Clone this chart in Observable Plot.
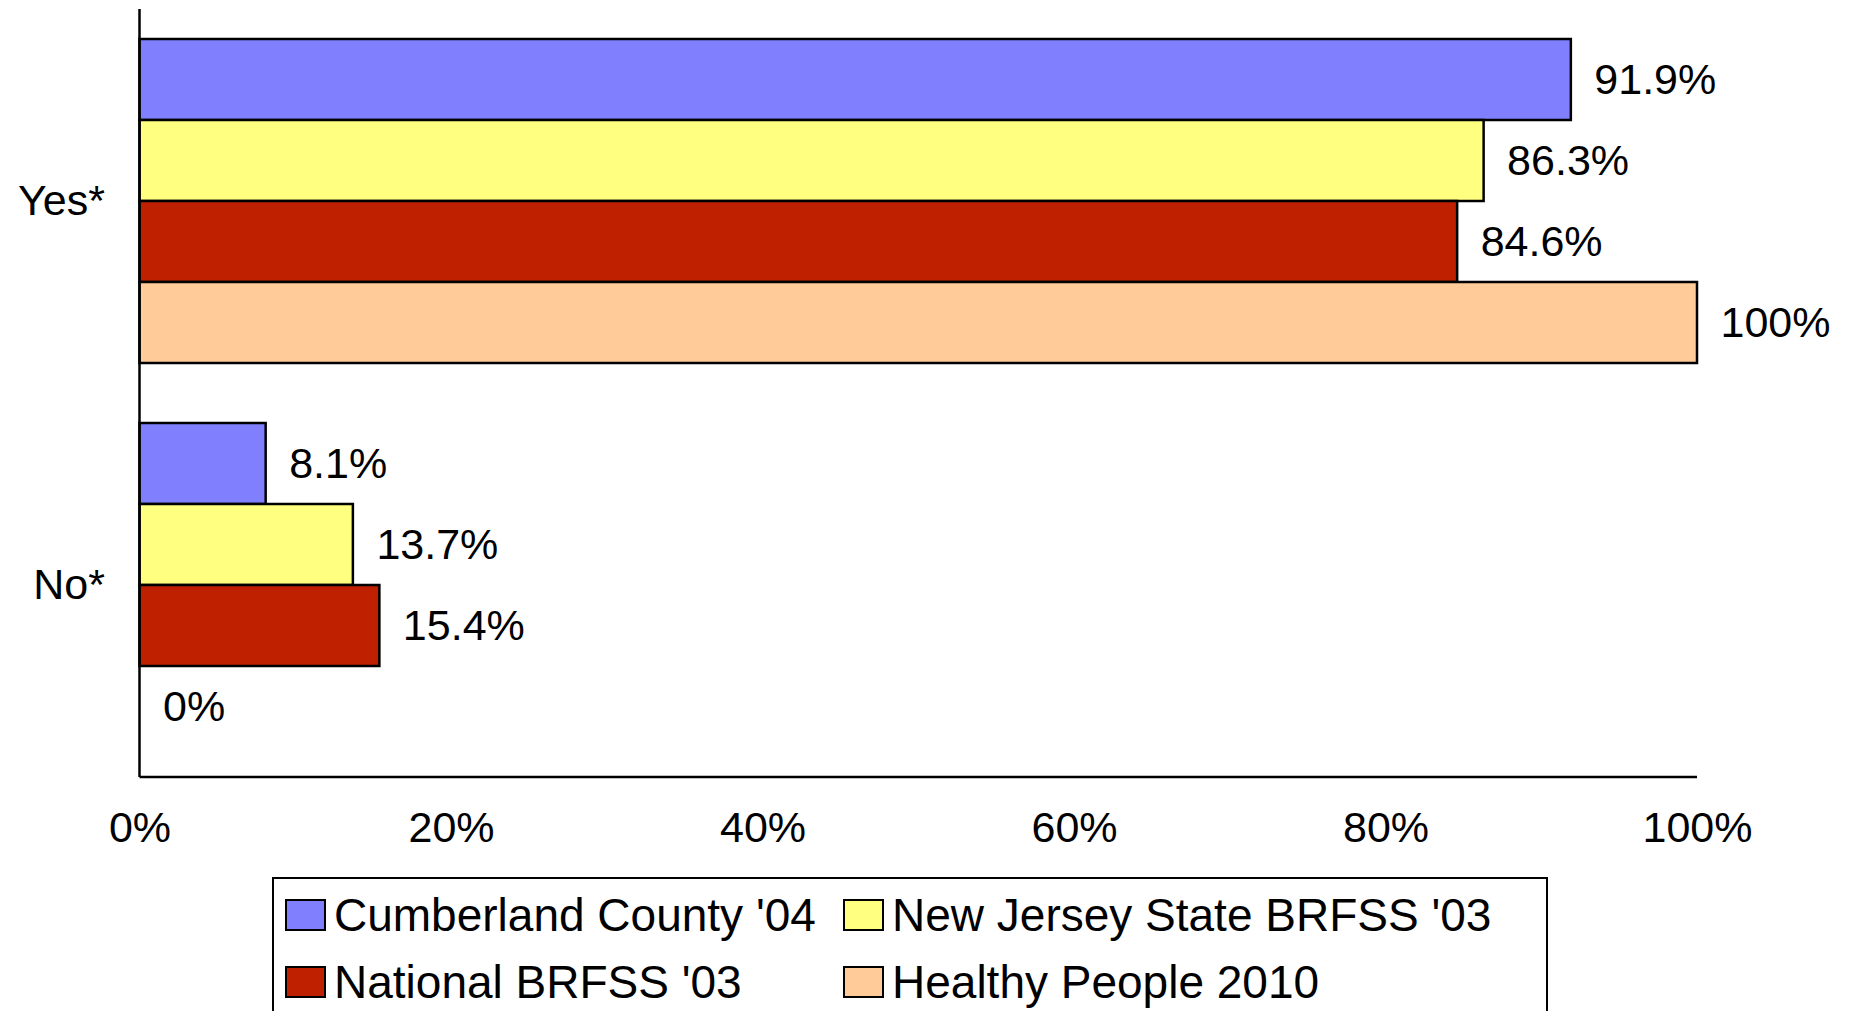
<!DOCTYPE html>
<html>
<head>
<meta charset="utf-8">
<script src="https://cdn.jsdelivr.net/npm/d3@7"></script>
<script src="https://cdn.jsdelivr.net/npm/@observablehq/plot@0.6"></script>
<style>
  html, body { margin: 0; padding: 0; background: #fff; }
  body { width: 1852px; height: 1011px; overflow: hidden; position: relative; font-family: "Liberation Sans", Arial, sans-serif; }
  #chart { position: absolute; left: 0; top: 0; }
  #legend {
    position: absolute; left: 272px; top: 877px; width: 1261px; height: 150px;
    border: 2px solid #000; box-sizing: content-box;
    display: grid; grid-template-columns: 558px auto; grid-auto-rows: 67px;
    padding-top: 2px; padding-left: 11px;
    font-size: 46px; color: #000;
  }
  .item { display: flex; align-items: center; white-space: nowrap; }
  .sw { width: 37px; height: 28px; border: 2px solid #000; margin-right: 8px; flex: none; }
</style>
</head>
<body>
<div id="chart"></div>
<div id="legend"></div>
<script>
const categories = ["Yes*", "No*"];
const series = ["Cumberland County '04", "New Jersey State BRFSS '03", "National BRFSS '03", "Healthy People 2010"];
const yesValues = [91.9, 86.3, 84.6, 100];
const noValues = [8.1, 13.7, 15.4, 0];
const valueLabels = {"Yes*": ["91.9%", "86.3%", "84.6%", "100%"], "No*": ["8.1%", "13.7%", "15.4%", "0%"]};
const xTicks = [0, 20, 40, 60, 80, 100];
const colors = ["#8080FF", "#FFFF80", "#BF2000", "#FFCC99"];

const data = [];
categories.forEach((c, ci) => {
  const vals = ci === 0 ? yesValues : noValues;
  series.forEach((s, si) => data.push({category: c, series: s, value: vals[si], label: valueLabels[c][si]}));
});

const plot = Plot.plot({
  width: 1852,
  height: 870,
  marginLeft: 139.5,
  marginRight: 155,
  marginTop: 9,
  marginBottom: 93,
  style: {fontFamily: "'Liberation Sans', Arial, sans-serif", fontSize: "43px", color: "#000", background: "#fff"},
  x: {domain: [0, 100], ticks: xTicks, tickFormat: d => d + "%", tickSize: 0, tickPadding: 64, label: null},
  y: {domain: series, padding: 0, axis: null},
  fy: {domain: categories, paddingInner: 0.1536, paddingOuter: 0.0768, axis: "left", tickSize: 0, tickPadding: 35, label: null},
  color: {domain: series, range: colors},
  marks: [
    Plot.barX(data, {fy: "category", y: "series", x: "value", fill: "series", stroke: "#000", strokeWidth: 2.5}),
    Plot.text(data, {fy: "category", y: "series", x: "value", text: "label", textAnchor: "start", dx: 23, fill: "#000"})
  ]
});
document.getElementById("chart").appendChild(plot);

// Axis lines drawn from the plot's own scales
const xs = plot.scale("x");
const fys = plot.scale("fy");
const x0 = xs.apply(0), x1 = xs.apply(100);
const [yTop, yBottom] = fys.range;
const svg = d3.select(plot.tagName.toLowerCase() === "svg" ? plot : plot.querySelector("svg"));
svg.append("line").attr("x1", x0).attr("x2", x0).attr("y1", yTop).attr("y2", yBottom)
  .attr("stroke", "#000").attr("stroke-width", 2.5);
svg.append("line").attr("x1", x0).attr("x2", x1).attr("y1", yBottom).attr("y2", yBottom)
  .attr("stroke", "#000").attr("stroke-width", 2.5);

const legend = document.getElementById("legend");
series.forEach((s, i) => {
  const item = document.createElement("div");
  item.className = "item";
  const sw = document.createElement("div");
  sw.className = "sw";
  sw.style.background = colors[i];
  const t = document.createElement("span");
  t.textContent = s;
  item.appendChild(sw); item.appendChild(t);
  legend.appendChild(item);
});
</script>
</body>
</html>
